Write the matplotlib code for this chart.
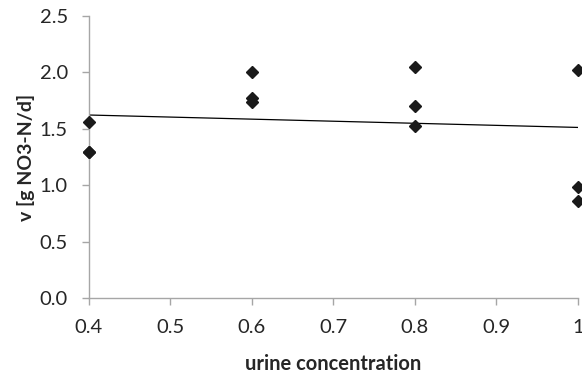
import numpy as np
import matplotlib
matplotlib.use("Agg")
import matplotlib.pyplot as plt

plt.rcParams["font.family"] = ["Lato", "DejaVu Sans"]

# measurements
conc = [0.4, 0.4, 0.4, 0.6, 0.6, 0.6, 0.8, 0.8, 0.8, 1.0, 1.0, 1.0]
rate = [1.56, 1.30, 1.30, 2.00, 1.77, 1.74, 2.05, 1.70, 1.53, 2.02, 0.99, 0.86]

xticks = [0.4, 0.5, 0.6, 0.7, 0.8, 0.9, 1.0]
xlabels = ["0.4", "0.5", "0.6", "0.7", "0.8", "0.9", "1"]
yticks = [0.0, 0.5, 1.0, 1.5, 2.0, 2.5]
ylabels = ["0.0", "0.5", "1.0", "1.5", "2.0", "2.5"]

fig = plt.figure(figsize=(5.82, 3.75), dpi=100)
ax = fig.add_axes([0.1524, 0.2045, 0.8402, 0.7528])

ax.plot(conc, rate, "D", color="#1a1a1a", ms=6.6, clip_on=False, zorder=3)

# linear trend line
k, b = np.polyfit(conc, rate, 1)
xl = np.array([0.4, 1.0])
ax.plot(xl, k * xl + b, color="black", lw=0.9, zorder=2)

ax.set_xlim(0.4, 1.0)
ax.set_ylim(0, 2.5)
ax.set_xticks(xticks)
ax.set_xticklabels(xlabels)
ax.set_yticks(yticks)
ax.set_yticklabels(ylabels)

for s in ["top", "right"]:
    ax.spines[s].set_visible(False)
for s in ["left", "bottom"]:
    ax.spines[s].set_color("#a6a6a6")
    ax.spines[s].set_linewidth(1.0)
ax.tick_params(colors="#a6a6a6", labelcolor="#262626", labelsize=14.5, length=5, width=1.0, direction="out")
ax.tick_params(axis="x", pad=10)
ax.tick_params(axis="y", pad=10)

ax.set_xlabel("urine concentration", fontsize=14.5, fontweight="bold", color="#262626", labelpad=13)
ax.set_ylabel("v [g NO3-N/d]", fontsize=14, fontweight="bold", color="#262626", labelpad=3)

fig.savefig("out.png", dpi=100)
